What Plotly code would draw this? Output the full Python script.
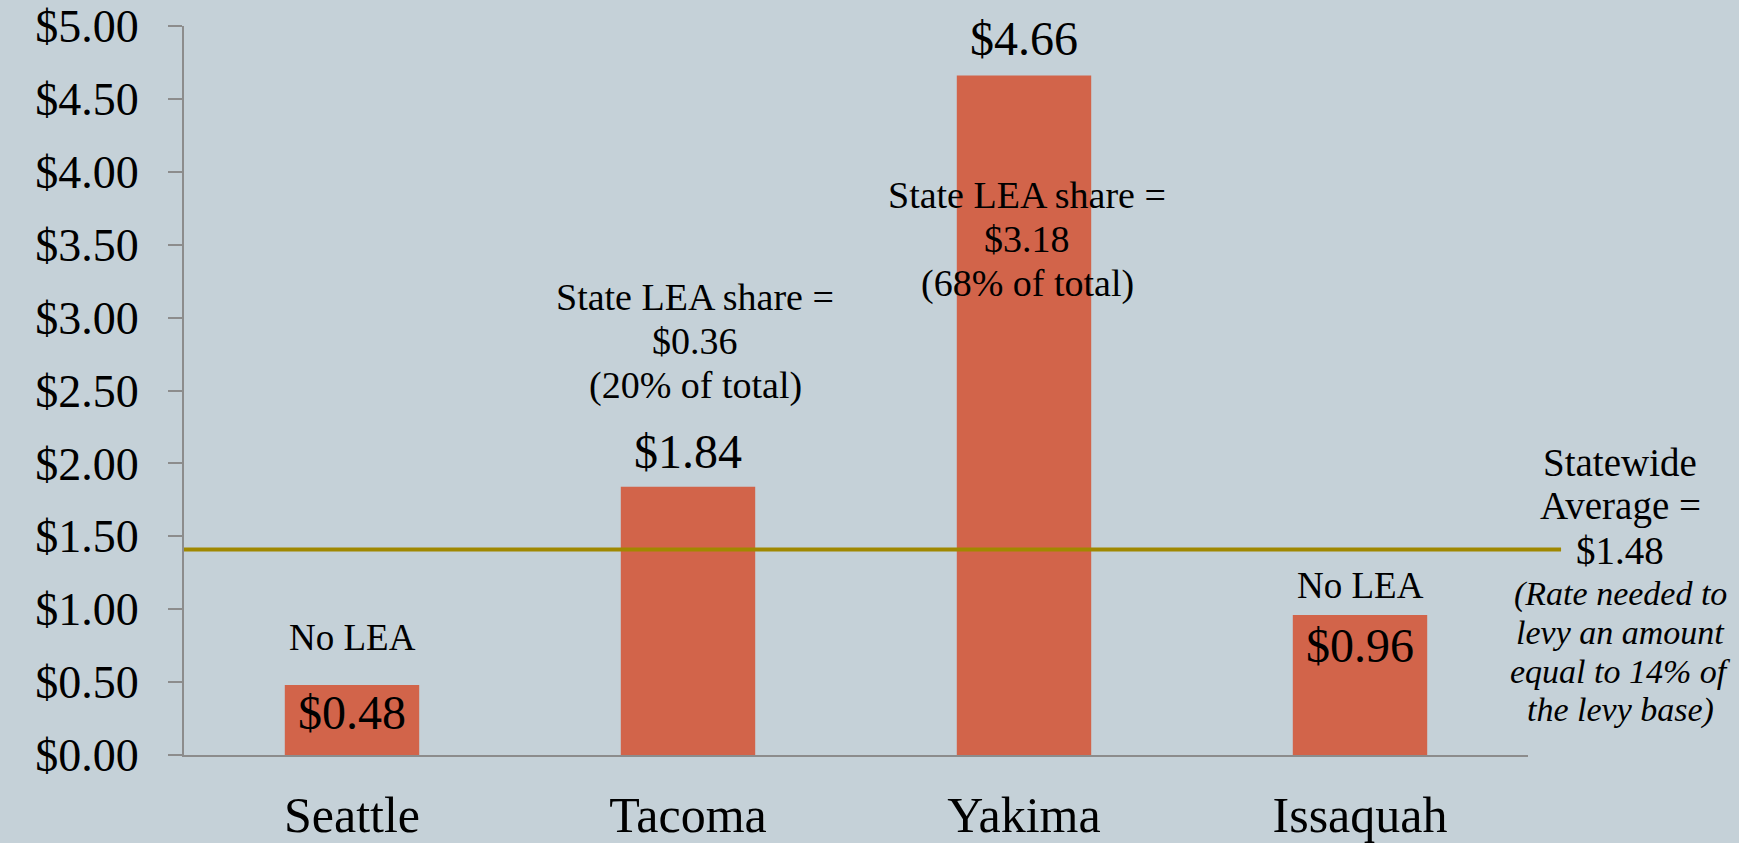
import plotly.graph_objects as go

cities = ["Seattle", "Tacoma", "Yakima", "Issaquah"]
rates = [0.48, 1.84, 4.66, 0.96]
lea_share = [None, 0.36, 3.18, None]
lea_pct = [None, 20, 68, None]
statewide_avg = 1.48
statewide_line = 1.41
tick_vals = [0, 0.5, 1, 1.5, 2, 2.5, 3, 3.5, 4, 4.5, 5]
tick_text = ["$%.2f" % v for v in tick_vals]
note_lines = ["(Rate needed to", "levy an amount", "equal to 14% of", "the levy base)"]

BG = "#C5D1D8"
BAR = "#D2644A"
LINE = "#A08800"
AX = "#8C8C8C"
FONT = "Liberation Serif"

fig = go.Figure()
fig.add_trace(go.Bar(x=cities, y=rates, width=0.4, marker=dict(color=BAR, line=dict(width=0)),
                     hoverinfo="skip"))

fig.add_shape(type="line", xref="paper", yref="y", x0=0, x1=1.0246,
              y0=statewide_line, y1=statewide_line, line=dict(color=LINE, width=4), layer="above")

ann = []
# value labels
val_shift = {"Seattle": -27, "Tacoma": 35, "Yakima": 37, "Issaquah": -30}
for c, v in zip(cities, rates):
    ann.append(dict(x=c, y=v, xref="x", yref="y", text="$%.2f" % v, showarrow=False,
                    yshift=val_shift[c], yanchor="middle", font=dict(size=48, color="black", family=FONT)))
# No LEA
nolea_shift = {"Seattle": 48, "Issaquah": 30}
for c, v, s in zip(cities, rates, lea_share):
    if s is None:
        ann.append(dict(x=c, y=v, xref="x", yref="y", text="No LEA", showarrow=False,
                        yshift=nolea_shift[c], yanchor="middle",
                        font=dict(size=37, color="black", family=FONT)))
# State LEA share
share_shift = {"Tacoma": (190, 7), "Yakima": (-119, 3)}
for c, v, s, p in zip(cities, rates, lea_share, lea_pct):
    if s is not None:
        base, xs = share_shift[c]
        for i, t in enumerate(["State LEA share =", "$%.2f" % s, "(%d%% of total)" % p]):
            ann.append(dict(x=c, y=v, xref="x", yref="y", text=t, showarrow=False,
                            yshift=base - 44.5 * i, xshift=xs, yanchor="middle",
                            font=dict(size=38, color="black", family=FONT)))
# statewide block
sw = ["Statewide", "Average =", "$%.2f" % statewide_avg]
for i, t in enumerate(sw):
    ann.append(dict(x=1.0685, y=statewide_line, xref="paper", yref="y", text=t, showarrow=False,
                    xanchor="center", yshift=87 - 44 * i, yanchor="middle",
                    font=dict(size=39, color="black", family=FONT)))
for i, t in enumerate(note_lines):
    ann.append(dict(x=1.0685, y=statewide_line, xref="paper", yref="y", text="<i>%s</i>" % t,
                    showarrow=False, xanchor="center", yshift=-45 - 38.5 * i, yanchor="middle",
                    font=dict(size=34, color="black", family=FONT)))

fig.update_layout(
    width=1739, height=843,
    paper_bgcolor=BG, plot_bgcolor=BG,
    margin=dict(l=184, r=211, t=26, b=88, autoexpand=False),
    showlegend=False,
    annotations=ann,
    bargap=0.6,
    font=dict(family=FONT, color="black"),
)
fig.update_yaxes(range=[0, 5], tickvals=tick_vals, ticktext=tick_text, showgrid=False, zeroline=False,
                 showline=True, linecolor=AX, linewidth=2, ticks="outside", ticklen=14, tickwidth=2,
                 tickcolor=AX, tickfont=dict(size=46, family=FONT, color="black"), ticklabelstandoff=20)
fig.update_xaxes(showgrid=False, zeroline=False, showline=True, linecolor=AX, linewidth=2, ticks="",
                 tickfont=dict(size=50, family=FONT, color="black"), ticklabelstandoff=15)

fig.write_html("out.html", config={"displayModeBar": False},
               post_script="document.body.style.margin='0';document.body.style.overflow='hidden';")
